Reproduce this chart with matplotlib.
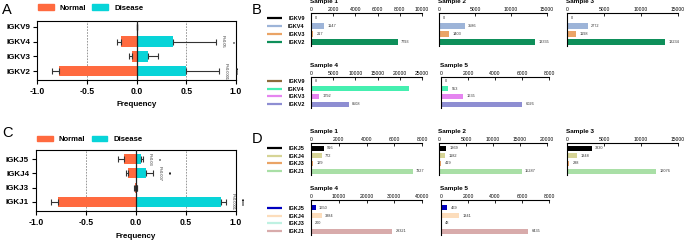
import matplotlib
matplotlib.use('Agg')
import matplotlib.pyplot as plt
from matplotlib.patches import Patch
from matplotlib.transforms import blended_transform_factory

plt.rcParams['font.family'] = ['Liberation Sans', 'DejaVu Sans']

# ---------------- data ----------------
# Panel A (IGKV frequencies)
genes_A = ['IGKV2', 'IGKV3', 'IGKV4', 'IGKV9']
normal_A = [-0.78, -0.05, -0.16, 0.0]
normal_A_err = [0.07, 0.03, 0.04, 0.0]
disease_A = [0.50, 0.12, 0.37, 0.0]
disease_A_err = [0.33, 0.10, 0.43, 0.0]
pval_A = ['P<0.0001', '', 'P=0.05', '']
stars_A = ['****', '', '*', '']

# Panel C (IGKJ frequencies)
genes_C = ['IGKJ1', 'IGKJ3', 'IGKJ4', 'IGKJ5']
normal_C = [-0.78, -0.015, -0.08, -0.12]
normal_C_err = [0.07, 0.01, 0.02, 0.06]
disease_C = [0.85, 0.005, 0.10, 0.05]
disease_C_err = [0.05, 0.005, 0.07, 0.02]
pval_C = ['P<0.0001', '', 'P=0.007', 'P=0.03']
stars_C = ['****', '', '**', '*']

x_ticks_AC = [-1.0, -0.5, 0.0, 0.5, 1.0]

# Panel B (IGKV counts per sample), order: IGKV2, IGKV3, IGKV4, IGKV9
genes_B = ['IGKV2', 'IGKV3', 'IGKV4', 'IGKV9']
B_s1 = [7793, 217, 1147, 0]
B_s2 = [13335, 1403, 3586, 0]
B_s3 = [13234, 1198, 2772, 0]
B_s4 = [8508, 1792, 22000, 8]
B_s5 = [6026, 1635, 553, 0]
B_ticks_s1 = [0, 2000, 4000, 6000, 8000, 10000]
B_ticks_s2 = [0, 5000, 10000, 15000]
B_ticks_s3 = [0, 5000, 10000, 15000]
B_ticks_s4 = [0, 5000, 10000, 15000, 20000, 25000]
B_ticks_s5 = [0, 2000, 4000, 6000, 8000]

# Panel D (IGKJ counts per sample), order: IGKJ1, IGKJ3, IGKJ4, IGKJ5
genes_D = ['IGKJ1', 'IGKJ3', 'IGKJ4', 'IGKJ5']
D_s1 = [7327, 129, 772, 916]
D_s2 = [15287, 419, 1182, 1369]
D_s3 = [12076, 288, 1348, 3330]
D_s4 = [29321, 200, 3884, 1650]
D_s5 = [6435, 48, 1341, 469]
D_ticks_s1 = [0, 2000, 4000, 6000, 8000]
D_ticks_s2 = [0, 5000, 10000, 15000, 20000]
D_ticks_s3 = [0, 5000, 10000, 15000]
D_ticks_s4 = [0, 10000, 20000, 30000, 40000]
D_ticks_s5 = [0, 2000, 4000, 6000, 8000]

sample_names = ['Sample 1', 'Sample 2', 'Sample 3', 'Sample 4', 'Sample 5']
hidden_labels = {('B', 3, 2)}  # value label not shown in the original

# ---------------- styles ----------------
C_NORMAL = '#FF6A3F'
C_DISEASE = '#08D4D8'
B_colors_row1 = ['#0E8F5A', '#EAA466', '#9DB4D8', '#000000']
B_colors_row2 = ['#8E8ED2', '#E585F0', '#45EFB0', '#8C6A3A']
D_colors_row1 = ['#A9DFA6', '#EAA466', '#D6D496', '#000000']
D_colors_row2 = ['#D8ABAB', '#BFF1E2', '#FCDDBC', '#0000BF']

W, H = 685, 242
fig = plt.figure(figsize=(W / 100, H / 100), dpi=100)


def ax_px(l, t, r, b):
    return fig.add_axes([l / W, 1 - b / H, (r - l) / W, (b - t) / H])


def freq_panel(ax, genes, normal, nerr, disease, derr, pvals, stars, ylim, legend_y):
    y = list(range(len(genes)))
    ax.barh(y, normal, height=0.72, color=C_NORMAL, zorder=2)
    ax.barh(y, disease, height=0.72, color=C_DISEASE, zorder=2)
    ax.errorbar(normal, y, xerr=[nerr, [0] * len(y)], fmt='none', ecolor='#333333',
                elinewidth=0.8, capsize=2.5, capthick=0.8, zorder=3)
    ax.errorbar(disease, y, xerr=[[0] * len(y), derr], fmt='none', ecolor='#333333',
                elinewidth=0.8, capsize=2.5, capthick=0.8, zorder=3)
    for i in y:
        if pvals[i]:
            xe = disease[i] + derr[i]
            ax.annotate(pvals[i], (xe, i), xytext=(3.0, 0), textcoords='offset points',
                        rotation=-90, fontsize=2.9, ha='left', va='center', color='#222222')
            ax.annotate(stars[i], (xe, i), xytext=(9, 0), textcoords='offset points',
                        rotation=-90, fontsize=3.6, fontweight='bold', ha='left', va='center',
                        color='#222222')
    ax.axvline(0, color='#222222', lw=0.9, zorder=4)
    for g in (-0.5, 0.5):
        ax.axvline(g, color='#888888', lw=0.6, ls=(0, (2, 1.5)), zorder=1)
    ax.set_xlim(-1.0, 1.0)
    ax.set_ylim(*ylim)
    ax.set_xticks(x_ticks_AC)
    ax.set_xticklabels([f'{v:.1f}' for v in x_ticks_AC], fontsize=6.2, fontweight='bold')
    ax.set_yticks(y)
    ax.set_yticklabels(genes, fontsize=5.8, fontweight='bold')
    ax.tick_params(axis='both', length=3, width=0.8, pad=2)
    for s in ax.spines.values():
        s.set_linewidth(0.8)
    ax.set_xlabel('Frequency', fontsize=5.8, fontweight='bold', labelpad=4)
    handles = [Patch(color=C_NORMAL, label='Normal'), Patch(color=C_DISEASE, label='Disease')]
    leg = ax.legend(handles=handles, ncol=2, loc='center left', bbox_to_anchor=(0.005, legend_y),
                    frameon=False, fontsize=5.6, handlelength=2.0, handleheight=0.7,
                    handletextpad=0.8, columnspacing=0.8, borderpad=0, borderaxespad=0)
    for t in leg.get_texts():
        t.set_fontweight('bold')


def count_panel(ax, values, colors, ticks, ylim, title, genes=None, key=None):
    y = list(range(len(values)))
    ax.barh(y, values, height=0.65, color=colors, zorder=2)
    for i, v in enumerate(values):
        if key is not None and (key[0], key[1], i) in hidden_labels:
            continue
        ax.annotate(str(v), (v, i), xytext=(2.5, 0), textcoords='offset points',
                    fontsize=2.8, va='center', ha='left', color='#333333')
    ax.set_xlim(ticks[0], ticks[-1])
    ax.set_ylim(*ylim)
    ax.xaxis.tick_top()
    ax.set_xticks(ticks)
    ax.set_xticklabels([str(t) for t in ticks], fontsize=3.6)
    ax.tick_params(axis='x', length=2, width=0.6, pad=0.8, direction='in')
    ax.spines['bottom'].set_visible(False)
    ax.spines['right'].set_visible(False)
    ax.spines['top'].set_linewidth(0.8)
    ax.spines['left'].set_linewidth(0.8)
    ax.set_title(title, loc='left', fontsize=4.6, fontweight='bold', pad=7.0, x=-0.01)
    if genes is not None:
        ax.set_yticks(y)
        ax.set_yticklabels(genes, fontsize=4.0, fontweight='bold')
        ax.tick_params(axis='y', length=0, pad=4.5)
        tr = blended_transform_factory(ax.transAxes, ax.transData)
        for i, c in enumerate(colors):
            ax.plot([-0.40, -0.26], [i, i], color=c, lw=1.6, transform=tr, clip_on=False,
                    solid_capstyle='butt')
    else:
        ax.set_yticks([])
    ax.patch.set_alpha(0)


# Panel A
axA = ax_px(37, 21, 236, 80)
freq_panel(axA, genes_A, normal_A, normal_A_err, disease_A, disease_A_err, pval_A, stars_A,
           (-0.6, 3.4), 1.22)
# Panel C
axC = ax_px(36, 150, 236, 211)
freq_panel(axC, genes_C, normal_C, normal_C_err, disease_C, disease_C_err, pval_C, stars_C,
           (-0.63, 3.63), 1.17)

# Panels B and D
B_data = [B_s1, B_s2, B_s3, B_s4, B_s5]
B_ticks = [B_ticks_s1, B_ticks_s2, B_ticks_s3, B_ticks_s4, B_ticks_s5]
D_data = [D_s1, D_s2, D_s3, D_s4, D_s5]
D_ticks = [D_ticks_s1, D_ticks_s2, D_ticks_s3, D_ticks_s4, D_ticks_s5]

B_rows = [(13, 46, (-0.5, 3.62)), (77, 108, (-0.5, 3.5))]
D_rows = [(143, 175, (-0.5, 3.65)), (200, 235, (-0.5, 4.0))]
row1_x = [(311, 422), (439, 547), (567, 678)]
row2_x = [(311, 422), (441, 549)]

for k in range(5):
    r = 0 if k < 3 else 1
    c = k if k < 3 else k - 3
    l, rr = row1_x[c] if r == 0 else row2_x[c]
    t, b, yl = B_rows[r]
    ax = ax_px(l, t, rr, b)
    count_panel(ax, B_data[k], B_colors_row1 if r == 0 else B_colors_row2, B_ticks[k], yl,
                sample_names[k], genes_B if c == 0 else None, ('B', k))
    t, b, yl = D_rows[r]
    ax = ax_px(l, t, rr, b)
    count_panel(ax, D_data[k], D_colors_row1 if r == 0 else D_colors_row2, D_ticks[k], yl,
                sample_names[k], genes_D if c == 0 else None, ('D', k))

# panel letters
for letter, (x, y) in {'A': (2, 10), 'B': (252, 10), 'C': (2, 133), 'D': (252, 139)}.items():
    fig.text(x / W, 1 - y / H, letter, fontsize=10.5, ha='left', va='center')

fig.savefig('out.png', dpi=100)
